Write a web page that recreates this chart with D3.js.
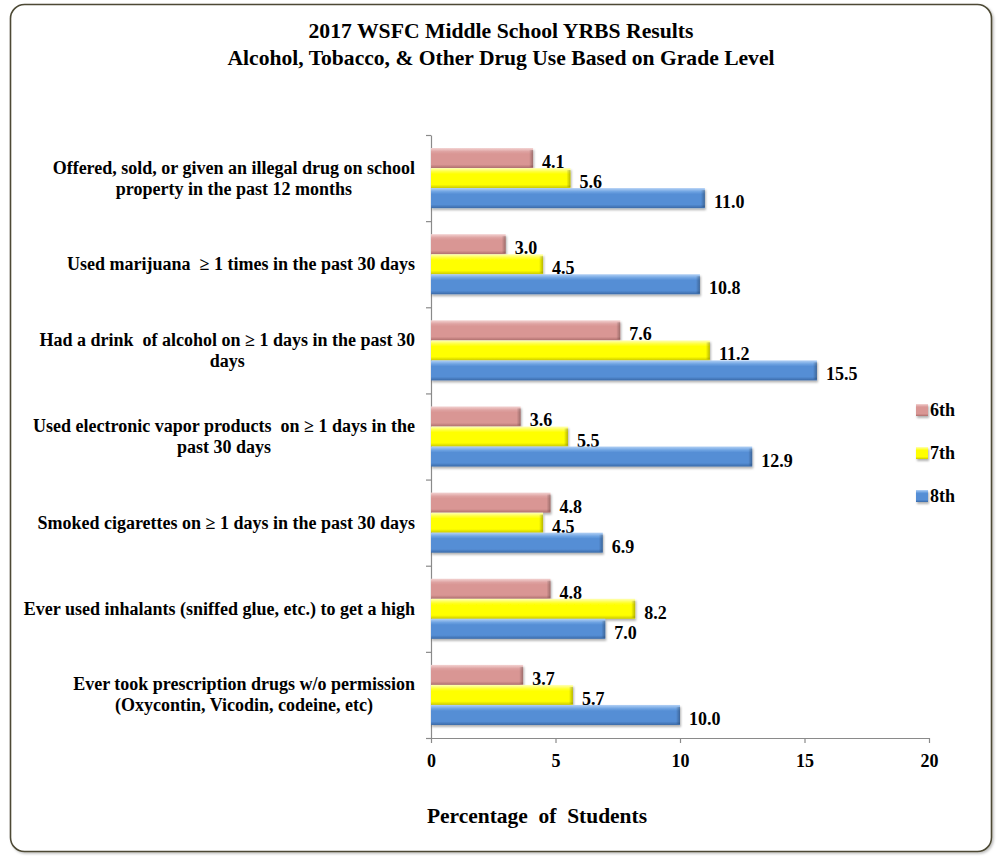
<!DOCTYPE html>
<html>
<head>
<meta charset="utf-8">
<script src="https://cdn.jsdelivr.net/npm/d3@7"></script>
<style>
  html, body { margin: 0; padding: 0; background: #ffffff; }
  svg { display: block; }
  text { font-family: "Liberation Serif", "Times New Roman", serif; font-weight: bold; fill: #000; }
</style>
</head>
<body>
<svg id="chart" width="997" height="856"></svg>
<script>
// Survey items (top to bottom); "\n" marks a line break in the label
const categories = [
  "Offered, sold, or given an illegal drug on school\nproperty in the past 12 months",
  "Used marijuana  \u2265 1 times in the past 30 days",
  "Had a drink  of alcohol on \u2265 1 days in the past 30\ndays",
  "Used electronic vapor products  on \u2265 1 days in the\npast 30 days",
  "Smoked cigarettes on \u2265 1 days in the past 30 days",
  "Ever used inhalants (sniffed glue, etc.) to get a high",
  "Ever took prescription drugs w/o permission\n(Oxycontin, Vicodin, codeine, etc)"
];
const seriesNames = ["6th", "7th", "8th"];
const grade6 = [4.1, 3.0, 7.6, 3.6, 4.8, 4.8, 3.7];
const grade7 = [5.6, 4.5, 11.2, 5.5, 4.5, 8.2, 5.7];
const grade8 = [11.0, 10.8, 15.5, 12.9, 6.9, 7.0, 10.0];
const xTicks = [0, 5, 10, 15, 20];
const titleLines = [
  "2017 WSFC Middle School YRBS Results",
  "Alcohol, Tobacco, & Other Drug Use Based on Grade Level"
];
const titleWidths = [385, 547];
const xTitle = "Percentage  of  Students";

const seriesValues = [grade6, grade7, grade8];
const palette = {
  "6th": { top: "#f3d3d2", mid: "#dea2a1", base: "#d99694", dark: "#ae6f6d" },
  "7th": { top: "#ffffb8", mid: "#ffff3a", base: "#ffff00", dark: "#caca00" },
  "8th": { top: "#b3d1f5", mid: "#6ea3e2", base: "#558ed5", dark: "#3b6aa8" }
};

const svg = d3.select("#chart");
const defs = svg.append("defs");

// Soft drop shadow for bars and the frame
const shadow = defs.append("filter").attr("id", "barShadow")
  .attr("x", "-5%").attr("y", "-30%").attr("width", "115%").attr("height", "180%");
shadow.append("feDropShadow").attr("dx", 1).attr("dy", 2)
  .attr("stdDeviation", 1.3).attr("flood-color", "#000").attr("flood-opacity", 0.3);

const frameShadow = defs.append("filter").attr("id", "frameShadow")
  .attr("x", "-2%").attr("y", "-2%").attr("width", "104%").attr("height", "104%");
frameShadow.append("feDropShadow").attr("dx", 1.5).attr("dy", 1.5)
  .attr("stdDeviation", 1.2).attr("flood-color", "#000").attr("flood-opacity", 0.25);

// Bevelled look: light top edge, flat body, darker bottom edge
seriesNames.forEach(name => {
  const c = palette[name];
  const g = defs.append("linearGradient").attr("id", "grad" + name)
    .attr("x1", 0).attr("y1", 0).attr("x2", 0).attr("y2", 1);
  g.append("stop").attr("offset", "0%").attr("stop-color", c.top);
  g.append("stop").attr("offset", "18%").attr("stop-color", c.mid);
  g.append("stop").attr("offset", "30%").attr("stop-color", c.base);
  g.append("stop").attr("offset", "82%").attr("stop-color", c.base);
  g.append("stop").attr("offset", "100%").attr("stop-color", c.dark);
});
// Right-end bevel overlay
const endGrad = defs.append("linearGradient").attr("id", "endBevel")
  .attr("x1", 0).attr("y1", 0).attr("x2", 1).attr("y2", 0);
endGrad.append("stop").attr("offset", "0%").attr("stop-color", "#000").attr("stop-opacity", 0);
endGrad.append("stop").attr("offset", "100%").attr("stop-color", "#000").attr("stop-opacity", 0.28);

// Rounded frame
svg.append("rect")
  .attr("x", 10.5).attr("y", 4.5).attr("width", 981).attr("height", 847)
  .attr("rx", 14).attr("ry", 14)
  .attr("fill", "#fff").attr("stroke", "#4d4a35").attr("stroke-width", 1.6)
  .attr("filter", "url(#frameShadow)");

// Title
svg.append("g").selectAll("text").data(titleLines).join("text")
  .attr("x", 501).attr("y", (d, i) => 38 + i * 27)
  .attr("text-anchor", "middle").attr("font-size", 21)
  .attr("textLength", (d, i) => titleWidths[i]).attr("lengthAdjust", "spacingAndGlyphs")
  .text(d => d);

// Scales
const x = d3.scaleLinear().domain([0, 20]).range([431, 929]);
const y = d3.scaleBand().domain(categories).range([135, 738]).paddingInner(0).paddingOuter(0);
const ySeries = d3.scaleBand().domain(seriesNames).range([0, y.bandwidth()])
  .paddingInner(0).paddingOuter(0.65);
const yIndex = d3.scaleLinear().domain([0, categories.length]).range([135, 738]);

// Y axis with ticks on category boundaries
const yAxis = svg.append("g").attr("transform", `translate(${x(0)},0)`)
  .call(d3.axisLeft(yIndex).tickValues(d3.range(categories.length + 1))
    .tickFormat("").tickSize(5).tickSizeOuter(0));
yAxis.selectAll("path, line").attr("stroke", "#8a8a8a").attr("stroke-width", 1.2);

// X axis
const xAxis = svg.append("g").attr("transform", `translate(0,${yIndex(categories.length)})`)
  .call(d3.axisBottom(x).tickValues(xTicks).tickSize(5).tickSizeOuter(0).tickPadding(11));
xAxis.selectAll("path, line").attr("stroke", "#8a8a8a").attr("stroke-width", 1.2);
xAxis.selectAll("text")
  .attr("font-size", 18).attr("font-family", "Liberation Serif, serif")
  .attr("font-weight", "bold").attr("fill", "#000");

// Category labels: centred lines, block right-aligned to the axis
const catG = svg.append("g");
categories.forEach(cat => {
  const lines = cat.split("\n");
  const lineH = 21;
  const cy = y(cat) + y.bandwidth() / 2;
  const t = catG.append("text").attr("font-size", 18).attr("xml:space", "preserve")
    .style("white-space", "pre");
  const spans = t.selectAll("tspan").data(lines).join("tspan")
    .attr("y", (d, i) => cy + (i - (lines.length - 1) / 2) * lineH)
    .attr("dominant-baseline", "central")
    .attr("text-anchor", "middle")
    .text(d => d);
  let maxW = 0;
  spans.each(function () { maxW = Math.max(maxW, this.getComputedTextLength()); });
  spans.attr("x", 415 - maxW / 2);
});

// Bars
const groups = svg.append("g").selectAll("g").data(seriesNames).join("g");
groups.each(function (name, si) {
  const g = d3.select(this);
  const vals = seriesValues[si];
  const data = categories.map((c, i) => ({ cat: c, v: vals[i] }));
  const bars = g.selectAll("g.bar").data(data).join("g").attr("class", "bar")
    .attr("filter", "url(#barShadow)");
  bars.append("rect")
    .attr("x", x(0)).attr("y", d => y(d.cat) + ySeries(name))
    .attr("width", d => x(d.v) - x(0)).attr("height", ySeries.bandwidth())
    .attr("fill", `url(#grad${name})`);
  bars.append("rect")
    .attr("x", d => x(d.v) - 4).attr("y", d => y(d.cat) + ySeries(name) + 2)
    .attr("width", 4).attr("height", ySeries.bandwidth() - 3)
    .attr("fill", "url(#endBevel)");
});

// Value labels
groups.each(function (name, si) {
  const vals = seriesValues[si];
  d3.select(this).selectAll("text.val")
    .data(categories.map((c, i) => ({ cat: c, v: vals[i] })))
    .join("text").attr("class", "val")
    .attr("x", d => x(d.v) + 9)
    .attr("y", d => y(d.cat) + ySeries(name) + ySeries.bandwidth() / 2 + 4)
    .attr("dominant-baseline", "central")
    .attr("font-size", 18)
    .text(d => d.v.toFixed(1));
});

// Legend
const legend = svg.append("g").selectAll("g").data(seriesNames).join("g")
  .attr("transform", (d, i) => `translate(916,${410 + i * 43})`);
legend.append("rect").attr("x", 0).attr("y", -6).attr("width", 12).attr("height", 12)
  .attr("fill", d => `url(#grad${d})`).attr("filter", "url(#barShadow)");
legend.append("text").attr("x", 14).attr("y", 0).attr("dominant-baseline", "central")
  .attr("font-size", 18).text(d => d);

// X axis title
svg.append("text").attr("x", 537).attr("y", 823).attr("text-anchor", "middle")
  .attr("font-size", 21)
  .attr("textLength", 220).attr("lengthAdjust", "spacingAndGlyphs")
  .attr("xml:space", "preserve").style("white-space", "pre")
  .text(xTitle);
</script>
</body>
</html>
